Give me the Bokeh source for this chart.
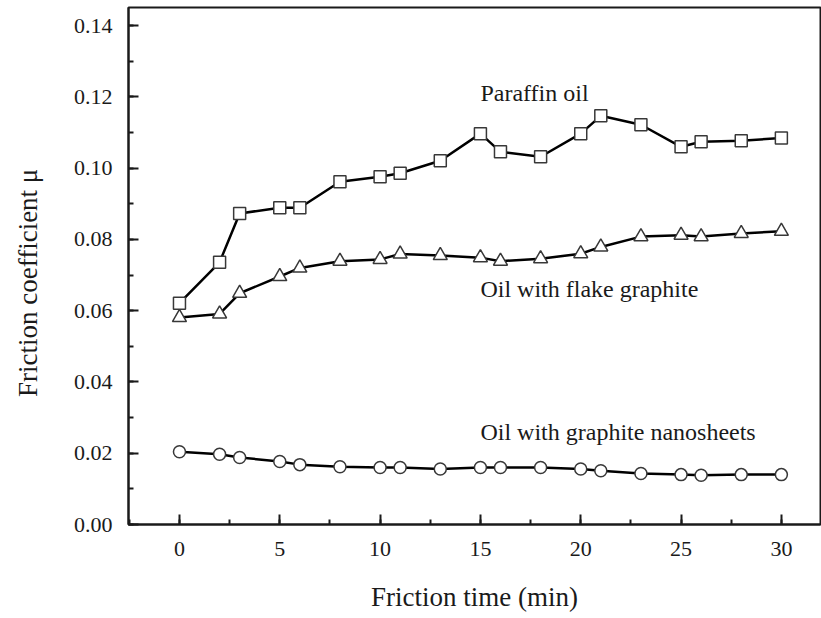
from bokeh.plotting import figure
from bokeh.models import ColumnDataSource, Range1d, SingleIntervalTicker, CustomJSTickFormatter
from bokeh.core.properties import value
from bokeh.embed import file_html
from bokeh.resources import INLINE

# Friction time (min) at which the coefficient was sampled
time_min = [0, 2, 3, 5, 6, 8, 10, 11, 13, 15, 16, 18, 20, 21, 23, 25, 26, 28, 30]

# Friction coefficient for each lubricant
paraffin_oil = [0.0621, 0.0736, 0.0873, 0.0889, 0.0889, 0.0962, 0.0976, 0.0986, 0.1021,
                0.1097, 0.1046, 0.1032, 0.1097, 0.1147, 0.1122, 0.1060, 0.1074, 0.1077, 0.1085]
flake_graphite = [0.0581, 0.0591, 0.0649, 0.0696, 0.0720, 0.0739, 0.0744, 0.0759, 0.0755,
                  0.0749, 0.0739, 0.0746, 0.0760, 0.0779, 0.0808, 0.0812, 0.0808, 0.0817, 0.0823]
graphite_nanosheets = [0.0204, 0.0197, 0.0188, 0.0177, 0.0168, 0.0162, 0.0160, 0.0160, 0.0156,
                       0.0160, 0.0160, 0.0160, 0.0156, 0.0151, 0.0143, 0.0140, 0.0138, 0.0140, 0.0140]

# Curve captions and where they sit
captions = ["Paraffin oil", "Oil with flake graphite", "Oil with graphite nanosheets"]
caption_x = [15.0, 15.0, 15.0]
caption_y = [0.1210, 0.0662, 0.0260]

FONT = "Liberation Serif"
INK = "#1a1a1a"

p = figure(width=821, height=618, output_backend="svg", toolbar_location=None,
           x_range=Range1d(-2.54, 31.95), y_range=Range1d(0.0, 0.1451),
           min_border_left=128, min_border_right=1, min_border_top=7, min_border_bottom=94)

p.background_fill_color = "white"
p.border_fill_color = "white"
p.grid.visible = False
p.outline_line_color = INK
p.outline_line_width = 2

src = ColumnDataSource(dict(t=time_min, par=paraffin_oil, flk=flake_graphite, nano=graphite_nanosheets))

for col in ["par", "flk", "nano"]:
    p.line("t", col, source=src, line_color="black", line_width=2.5)

mk = dict(fill_color="white", line_color="#383838", line_width=1.5)
p.scatter("t", "par", source=src, marker="square", size=12, **mk)
p.scatter("t", "flk", source=src, marker="triangle", size=14, **mk)
p.scatter("t", "nano", source=src, marker="circle", size=12, **mk)

cap_src = ColumnDataSource(dict(x=caption_x, y=caption_y, text=captions))
p.text("x", "y", text="text", source=cap_src, text_font=value(FONT), text_font_size="24px",
       text_color=INK, text_align="left", text_baseline="alphabetic")

# Axes: ticks point inward, serif labels
p.xaxis.ticker = SingleIntervalTicker(interval=5, num_minor_ticks=2)
p.yaxis.ticker = SingleIntervalTicker(interval=0.02, num_minor_ticks=2)
p.yaxis.formatter = CustomJSTickFormatter(code="return tick.toFixed(2);")

for ax in (p.xaxis[0], p.yaxis[0]):
    ax.axis_line_color = INK
    ax.axis_line_width = 2
    ax.major_tick_line_color = INK
    ax.major_tick_line_width = 2
    ax.major_tick_in = 10
    ax.major_tick_out = 0
    ax.minor_tick_line_color = INK
    ax.minor_tick_line_width = 2
    ax.minor_tick_in = 5
    ax.minor_tick_out = 0
    ax.major_label_text_font = FONT
    ax.major_label_text_font_size = "22px"
    ax.major_label_text_color = INK
    ax.axis_label_text_font = FONT
    ax.axis_label_text_font_size = "27px"
    ax.axis_label_text_font_style = "normal"
    ax.axis_label_text_color = INK

p.xaxis.axis_label = "Friction time (min)"
# trailing no-break spaces nudge the rotated title a little below the frame's middle
p.yaxis.axis_label = "Friction coefficient \u03bc" + "\u00a0" * 5
p.xaxis.major_label_standoff = 17
p.yaxis.major_label_standoff = 16
p.xaxis.axis_label_standoff = 23
p.yaxis.axis_label_standoff = 28

open("out.html", "w").write(file_html(p, INLINE))
